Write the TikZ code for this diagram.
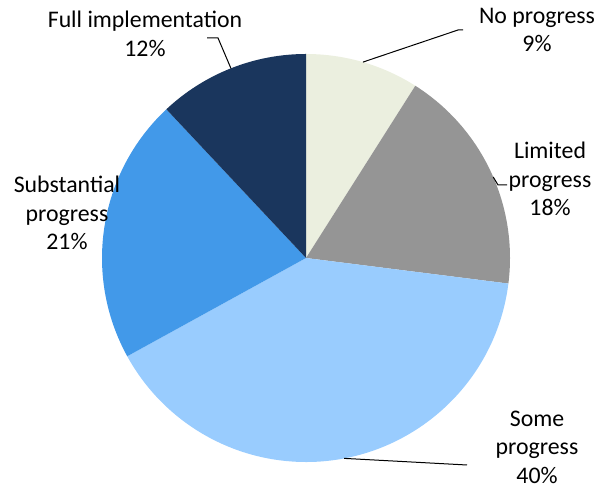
\documentclass[tikz,border=0pt]{standalone}
\usepackage{fontspec}
\setmainfont{Carlito}
\definecolor{noprog}{HTML}{EBEFDF}
\definecolor{limprog}{HTML}{959595}
\definecolor{someprog}{HTML}{99CCFE}
\definecolor{subprog}{HTML}{4299E9}
\definecolor{fullimpl}{HTML}{1A365D}

\begin{document}
\begin{tikzpicture}[x=1bp,y=1bp,
    lbl/.style={align=center, inner sep=0pt, font=\fontsize{23.8bp}{28.5bp}\selectfont},
    leader/.style={line width=1bp}]
    \useasboundingbox (0,0) rectangle (606,489);
    \coordinate (O) at (306,231);
    % slices, clockwise from the top
    \fill[noprog] (O) -- ++(90:204) arc[start angle=90, end angle=57.6, radius=204] -- cycle;
    \fill[limprog] (O) -- ++(57.6:204) arc[start angle=57.6, end angle=-7.2, radius=204] -- cycle;
    \fill[someprog] (O) -- ++(-7.2:204) arc[start angle=-7.2, end angle=-151.2, radius=204] -- cycle;
    \fill[subprog] (O) -- ++(208.8:204) arc[start angle=208.8, end angle=133.2, radius=204] -- cycle;
    \fill[fullimpl] (O) -- ++(133.2:204) arc[start angle=133.2, end angle=90, radius=204] -- cycle;

    \node[lbl] (np) at (537,459) {No progress\\9\%};
    \node[lbl] (lp) at (550,310) {Limited\\progress\\18\%};
    \node[lbl] (sp) at (537,42) {Some\\progress\\40\%};
    \node[lbl] (sb) at (67,276) {Substantial\\progress\\21\%};
    \node[lbl] (fi) at (145,455) {Full implementation\\12\%};

    \path (O) ++(73.8:204) coordinate (npa);
    \path (O) ++(23.4:204) coordinate (lpa);
    \path (O) ++(-79.2:204) coordinate (spa);
    \path (O) ++(111.6:204) coordinate (fia);
    \coordinate (npk) at (458,459); \coordinate (npe) at (463,459);
    \coordinate (lpk) at (498,304); \coordinate (lpe) at (507,304);
    \coordinate (spe) at (467,24);
    \coordinate (fik) at (218,451); \coordinate (fie) at (207,451);

    \draw[leader] (npa) -- (npk) -- (npe);
    \draw[leader] (lpa) -- (lpk) -- (lpe);
    \draw[leader] (spa) -- (spe);
    \draw[leader] (fia) -- (fik) -- (fie);
    %\draw (O) circle(204);
  \end{tikzpicture}
\end{document}
